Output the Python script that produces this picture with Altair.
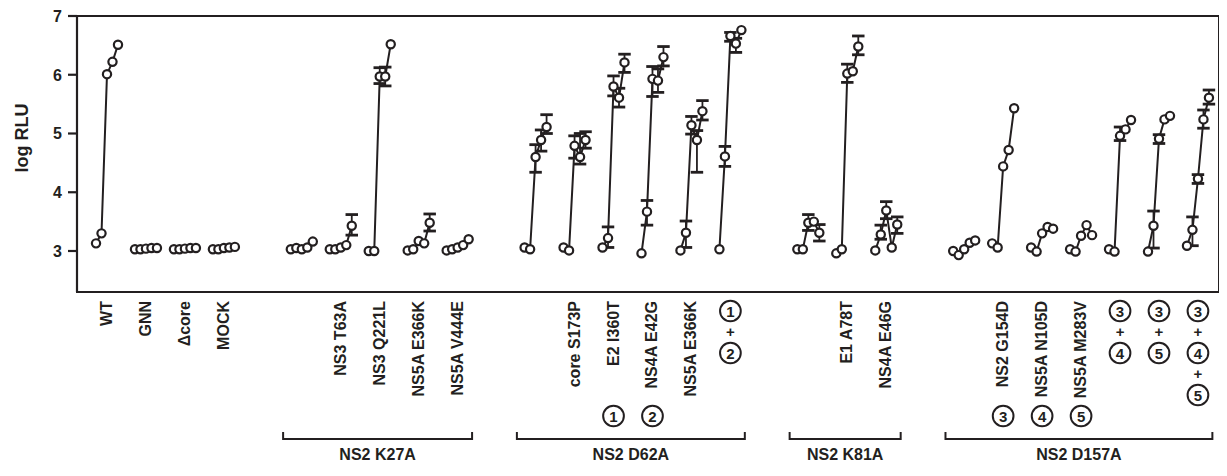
import altair as alt
import pandas as pd

INK = "#231f20"
FONT = "Liberation Sans"

# ---------------- data ----------------
categories = ["WT", "GNN", "Δcore", "MOCK",
              "NS2 K27A", "NS3 T63A", "NS3 Q221L", "NS5A E366K", "NS5A V444E",
              "NS2 D62A", "core S173P", "E2 I360T", "NS4A E42G", "NS5A E366K (D62A)", "1+2",
              "NS2 K81A", "E1 A78T", "NS4A E46G",
              "NS2 D157A", "NS2 G154D", "NS5A N105D", "NS5A M283V", "3+4", "3+5", "3+4+5"]
slots = [0, 1, 2, 3, 5, 6, 7, 8, 9, 11, 12, 13, 14, 15, 16, 18, 19, 20, 22, 23, 24, 25, 26, 27, 28]
tick_labels = ["WT", "GNN", "Δcore", "MOCK",
               "", "NS3 T63A", "NS3 Q221L", "NS5A E366K", "NS5A V444E",
               "", "core S173P", "E2 I360T", "NS4A E42G", "NS5A E366K", "",
               "", "E1 A78T", "NS4A E46G",
               "", "NS2 G154D", "NS5A N105D", "NS5A M283V", "", "", ""]
combo_labels = ["", "", "", "", "", "", "", "", "", "", "", "", "", "", "1+2",
                "", "", "", "", "", "", "", "3+4", "3+5", "3+4+5"]
marker_below = ["", "", "", "", "", "", "", "", "", "", "", "1", "2", "", "",
                "", "", "", "", "3", "4", "5", "", "", ""]

log_rlu = [
    [3.13, 3.30, 6.01, 6.22, 6.51],
    [3.03, 3.03, 3.04, 3.05, 3.05],
    [3.03, 3.03, 3.04, 3.05, 3.05],
    [3.03, 3.03, 3.05, 3.06, 3.07],
    [3.03, 3.05, 3.03, 3.06, 3.16],
    [3.03, 3.03, 3.06, 3.10, 3.43],
    [3.00, 3.00, 5.97, 5.97, 6.52],
    [3.01, 3.03, 3.17, 3.13, 3.48],
    [3.01, 3.03, 3.06, 3.10, 3.20],
    [3.06, 3.03, 4.60, 4.89, 5.11],
    [3.06, 3.01, 4.79, 4.60, 4.89],
    [3.06, 3.22, 5.80, 5.61, 6.21],
    [2.96, 3.67, 5.93, 5.90, 6.30],
    [3.01, 3.31, 5.14, 4.89, 5.38],
    [3.03, 4.61, 6.66, 6.53, 6.76],
    [3.03, 3.03, 3.48, 3.50, 3.31],
    [2.96, 3.03, 6.02, 6.06, 6.48],
    [3.01, 3.28, 3.69, 3.06, 3.45],
    [3.00, 2.93, 3.03, 3.14, 3.18],
    [3.13, 3.06, 4.44, 4.72, 5.43],
    [3.06, 2.99, 3.30, 3.41, 3.38],
    [3.03, 2.99, 3.26, 3.44, 3.27],
    [3.03, 2.99, 4.96, 5.07, 5.23],
    [2.99, 3.43, 4.91, 5.24, 5.30],
    [3.09, 3.36, 4.23, 5.24, 5.61],
]

# error bars: category index, time point, low, high
err_cat = [5, 6, 6, 7, 9, 9, 9, 10, 10, 10, 11, 11, 11, 11, 12, 12, 12, 12,
           13, 13, 13, 13, 14, 14, 14, 15, 15, 16, 16, 17, 17, 17, 22, 23, 23, 24, 24, 24, 24]
err_t = [4, 2, 3, 4, 2, 3, 4, 2, 3, 4, 1, 2, 3, 4, 1, 2, 3, 4,
         1, 2, 3, 4, 1, 2, 3, 2, 4, 2, 4, 1, 2, 4, 2, 1, 2, 1, 2, 3, 4]
err_lo = [3.27, 5.85, 5.81, 3.34, 4.34, 4.70, 5.00, 4.58, 4.48, 4.75, 3.06, 5.64, 5.45, 6.04,
          3.44, 5.63, 5.70, 6.15, 3.06, 4.99, 4.34, 5.23, 4.44, 6.57, 6.38, 3.35, 3.17,
          5.87, 6.34, 3.20, 3.55, 3.30, 4.88, 3.05, 4.83, 3.09, 4.15, 5.09, 5.50]
err_hi = [3.62, 6.12, 6.13, 3.63, 4.81, 5.06, 5.32, 4.96, 5.00, 5.03, 3.41, 5.98, 5.77, 6.35,
          3.86, 6.14, 6.10, 6.48, 3.51, 5.29, 5.05, 5.56, 4.78, 6.72, 6.62, 3.62, 3.45,
          6.18, 6.66, 3.44, 3.84, 3.58, 5.11, 3.68, 4.98, 3.58, 4.30, 5.40, 5.74]

group_names = ["NS2 K27A", "NS2 D62A", "NS2 K81A", "NS2 D157A"]
group_first = [4, 9, 15, 18]    # category index of first member
group_last = [8, 14, 17, 24]    # category index of last member

y_ticks = [3, 4, 5, 6, 7]
y_title = "log RLU"

# ---------------- tables ----------------
rows = []
for i, vals in enumerate(log_rlu):
    for t, v in enumerate(vals):
        rows.append({"cat": i, "slot": slots[i], "t": t, "v": v})
pts = pd.DataFrame(rows)

err = pd.DataFrame({"cat": err_cat, "t": err_t, "lo": err_lo, "hi": err_hi})
err["slot"] = [slots[c] for c in err["cat"]]

lab = pd.DataFrame({"x": slots, "text": tick_labels})
lab = lab[lab["text"] != ""]

combo_rows = []
for i, c in enumerate(combo_labels):
    if not c:
        continue
    parts = c.split("+")
    for k, p in enumerate(parts):
        combo_rows.append({"x": slots[i], "level": 2 * k, "text": p})
        if k < len(parts) - 1:
            combo_rows.append({"x": slots[i], "level": 2 * k + 1, "text": "+"})
combo = pd.DataFrame(combo_rows)

below = pd.DataFrame({"x": slots, "text": marker_below})
below = below[below["text"] != ""]

grp = pd.DataFrame({"name": group_names,
                    "a": [slots[i] for i in group_first],
                    "b": [slots[i] for i in group_last]})

ticks_df = pd.DataFrame({"tick": y_ticks, "label": [str(v) for v in y_ticks]})
title_df = pd.DataFrame({"title": [y_title]})

# ---------------- scales ----------------
LEFT = 69
W, H = 1142, 276
X_MIN, X_MAX = -0.77, 28.54
PX_PER_SLOT = W / (X_MAX - X_MIN)
xscale = alt.Scale(domain=[X_MIN, X_MAX], nice=False, zero=False)
yscale = alt.Scale(domain=[2.302, 7], nice=False, zero=False)
XN = dict(scale=xscale, axis=None)
YN = dict(scale=yscale, axis=None)

base = alt.Chart(pts).transform_calculate(x="datum.slot + (datum.t - 2) * 0.141")

lines = base.mark_line(color=INK, strokeWidth=2).encode(
    x=alt.X("x:Q", **XN),
    y=alt.Y("v:Q", **YN),
    detail="cat:N",
    order="t:Q",
)

ebase = alt.Chart(err).transform_calculate(
    x="datum.slot + (datum.t - 2) * 0.141",
    xl="datum.slot + (datum.t - 2) * 0.141 - 0.16",
    xr="datum.slot + (datum.t - 2) * 0.141 + 0.16",
)
evert = ebase.mark_rule(color=INK, strokeWidth=1.8).encode(
    x=alt.X("x:Q", **XN), y=alt.Y("lo:Q", **YN), y2="hi:Q")
ecap_lo = ebase.mark_rule(color=INK, strokeWidth=2.8).encode(
    x=alt.X("xl:Q", **XN), x2="xr:Q", y=alt.Y("lo:Q", **YN))
ecap_hi = ebase.mark_rule(color=INK, strokeWidth=2.8).encode(
    x=alt.X("xl:Q", **XN), x2="xr:Q", y=alt.Y("hi:Q", **YN))

points = base.mark_point(shape="circle", filled=True, fill="white", stroke=INK,
                         strokeWidth=2.2, size=68, opacity=1, fillOpacity=1).encode(
    x=alt.X("x:Q", **XN),
    y=alt.Y("v:Q", **YN),
    order="t:Q",
)

# y axis line, ticks, labels and title drawn from small tables
tick_len = 9 / PX_PER_SLOT
axis_df = pd.DataFrame({"lo": [2.302], "hi": [7.0]})
frame_left = alt.Chart(axis_df).mark_rule(color=INK, strokeWidth=2.2).encode(
    x=alt.datum(X_MIN, scale=xscale, axis=None),
    y=alt.Y("lo:Q", **YN), y2="hi:Q")
yticks = alt.Chart(ticks_df).mark_rule(color=INK, strokeWidth=2.2).encode(
    x=alt.datum(X_MIN - tick_len, scale=xscale, axis=None),
    x2=alt.datum(X_MIN),
    y=alt.Y("tick:Q", **YN))
ylabels = alt.Chart(ticks_df).mark_text(font=FONT, fontSize=16, fontWeight="bold", color=INK,
                                        align="right", baseline="middle", dy=1).encode(
    x=alt.value(-15), y=alt.Y("tick:Q", **YN), text="label:N")
ytitle = alt.Chart(title_df).mark_text(font=FONT, fontSize=18, fontWeight="bold", color=INK,
                                       angle=270, align="center", baseline="middle").encode(
    x=alt.value(-54), y=alt.value(122), text="title:N")

# ---------- annotations below the plot (pixel rows relative to plot top) ----------
LAB_Y = 285
COMBO_Y0, COMBO_STEP = 295, 21
BELOW_Y = 400
BR_Y, BR_TICK = 423, 7
NAME_Y = 439

xlabels = alt.Chart(lab).mark_text(angle=270, align="right", baseline="middle", font=FONT,
                                   fontSize=16, fontWeight="bold", color=INK).encode(
    x=alt.X("x:Q", **XN), y=alt.value(LAB_Y), text="text:N")

combo_layers = []
for level in range(5):
    yv = COMBO_Y0 + level * COMBO_STEP
    sub = alt.Chart(combo).transform_filter(f"datum.level == {level}")
    if level % 2 == 0:
        combo_layers.append(sub.mark_point(shape="circle", filled=False, stroke=INK,
                                           strokeWidth=2, size=430, opacity=1).encode(
            x=alt.X("x:Q", **XN), y=alt.value(yv)))
        combo_layers.append(sub.mark_text(font=FONT, fontSize=15, fontWeight="bold", color=INK,
                                          baseline="middle", align="center", dy=1).encode(
            x=alt.X("x:Q", **XN), y=alt.value(yv), text="text:N"))
    else:
        combo_layers.append(sub.mark_text(font=FONT, fontSize=15, fontWeight="bold", color=INK,
                                          baseline="middle", align="center", dy=0).encode(
            x=alt.X("x:Q", **XN), y=alt.value(yv), text="text:N"))

bcircles = alt.Chart(below).mark_point(shape="circle", filled=False, stroke=INK,
                                       strokeWidth=2, size=430, opacity=1).encode(
    x=alt.X("x:Q", **XN), y=alt.value(BELOW_Y))
btext = alt.Chart(below).mark_text(font=FONT, fontSize=15, fontWeight="bold", color=INK,
                                   baseline="middle", align="center", dy=1).encode(
    x=alt.X("x:Q", **XN), y=alt.value(BELOW_Y), text="text:N")

gbase = alt.Chart(grp).transform_calculate(
    xa="datum.a - 0.48", xb="datum.b + 0.37", xm="(datum.a - 0.48 + datum.b + 0.37) / 2")
bh = gbase.mark_rule(color=INK, strokeWidth=2).encode(
    x=alt.X("xa:Q", **XN), x2="xb:Q", y=alt.value(BR_Y))
bl = gbase.mark_rule(color=INK, strokeWidth=2).encode(
    x=alt.X("xa:Q", **XN), y=alt.value(BR_Y - BR_TICK), y2=alt.value(BR_Y + 1))
br = gbase.mark_rule(color=INK, strokeWidth=2).encode(
    x=alt.X("xb:Q", **XN), y=alt.value(BR_Y - BR_TICK), y2=alt.value(BR_Y + 1))
gnames = gbase.mark_text(font=FONT, fontSize=16, fontWeight="bold", color=INK,
                         baseline="middle", align="center").encode(
    x=alt.X("xm:Q", **XN), y=alt.value(NAME_Y), text="name:N")

chart = alt.layer(
    lines, evert, ecap_lo, ecap_hi, points,
    frame_left, yticks, ylabels, ytitle,
    xlabels, *combo_layers, bcircles, btext, bh, bl, br, gnames,
).properties(
    width=W, height=H,
    background="white",
    autosize=alt.AutoSizeParams(type="none"),
    padding={"left": LEFT, "top": 8, "right": 0, "bottom": 172},
).configure_view(
    stroke=INK, strokeWidth=2
)

chart.save("out.html", embed_options={"renderer": "svg", "actions": False})
